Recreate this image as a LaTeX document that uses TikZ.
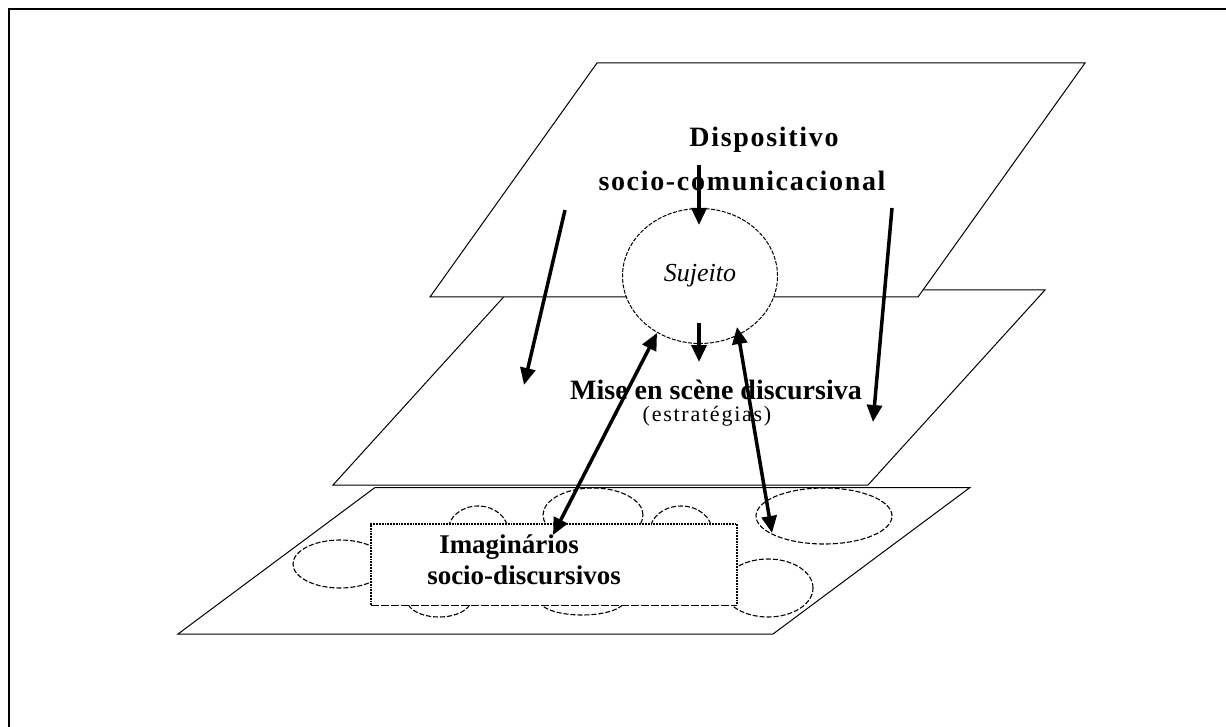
\documentclass[tikz,border=0pt]{standalone}
\usepackage{fontspec}
\setmainfont{Liberation Serif}
\newfontfamily\topfont[LetterSpace=6]{Liberation Serif}
\newfontfamily\estfont[LetterSpace=8]{Liberation Serif}
\usetikzlibrary{shapes.geometric,arrows.meta}
\begin{document}
\begin{tikzpicture}[x=1pt,y=-1pt,
  plane/.style={draw, line width=1pt, fill=white, line join=miter},
  blob/.style={draw, dash pattern=on 5pt off 2pt, line width=1.1pt},
  arr/.style={line width=3.5pt, -{Triangle[length=17pt,width=15pt]}},
  darr/.style={line width=3.5pt, {Triangle[length=17pt,width=15pt]}-{Triangle[length=17pt,width=15pt]}},
  lbl/.style={inner sep=0pt, text=black}
]
\useasboundingbox (0,0) rectangle (1226,727);
% frame
\draw[line width=2.5pt, line join=miter] (9,727) -- (9,9) -- (1226,9);

% bottom plane
\draw[plane] (375,487.5) -- (970,487.5) -- (773,634) -- (178,634) -- cycle;
% imaginary blobs
\draw[blob] (340,564) ellipse [x radius=47pt, y radius=24pt];
\draw[blob] (478,531) ellipse [x radius=30pt, y radius=25pt];
\draw[blob] (593,515) ellipse [x radius=50pt, y radius=27pt];
\draw[blob] (681,531) ellipse [x radius=31pt, y radius=25pt];
\draw[blob] (824,516) ellipse [x radius=68pt, y radius=28pt];
\draw[blob] (768,588) ellipse [x radius=45pt, y radius=29pt];
\draw[blob] (439,600) ellipse [x radius=32pt, y radius=17pt];
\draw[blob] (582,600) ellipse [x radius=43pt, y radius=15pt];
% box
\node[fill=white, minimum width=366pt, minimum height=81pt, inner sep=0pt] (box) at (554,564.5) {};
\draw[densely dotted, line width=1.8pt] (box.south west) -- (box.north west) -- (box.north east) -- (box.south east);
\draw[dash pattern=on 8pt off 2pt, line width=1.3pt] (box.south west) -- (box.south east);
\node[lbl, font=\bfseries\fontsize{27}{32}\selectfont] (imag) at (509,547) {Imaginários};
\node[lbl, font=\bfseries\fontsize{27}{32}\selectfont] (sociod) at (524,575) {socio-discursivos};

% middle plane
\draw[plane] (510,290) -- (1045,290) -- (868,485) -- (333,485) -- cycle;
% top plane
\draw[plane] (597,63) -- (1085,63) -- (918,297) -- (430,297) -- cycle;

% subject
\node[ellipse, draw, fill=white, dash pattern=on 4pt off 1.5pt, line width=1pt,
      minimum width=155pt, minimum height=135pt, inner sep=0pt,
      font=\itshape\fontsize{26}{30}\selectfont] (suj) at (700,276) {Sujeito};

% labels
\node[lbl, font=\topfont\bfseries\fontsize{28}{34}\selectfont] (disp) at (764,140) {Dispositivo};
\node[lbl, font=\topfont\bfseries\fontsize{28}{34}\selectfont] (sociocom) at (742,181) {socio-comunicacional};
\node[lbl, font=\bfseries\fontsize{28}{34}\selectfont] (mise) at (716,390) {Mise en scène discursiva};
\node[lbl, font=\estfont\fontsize{22}{26}\selectfont] (estr) at (707,416) {(estratégias)};

% arrow end points
\coordinate (a1s) at (699,165); \coordinate (a1e) at (699,225);
\coordinate (a2s) at (565,210); \coordinate (a2e) at (524,385);
\coordinate (a3s) at (892,208); \coordinate (a3e) at (873,422);
\coordinate (a4s) at (699,323); \coordinate (a4e) at (699,362);
\coordinate (a5s) at (553,535); \coordinate (a5e) at (657,333);
\coordinate (a6s) at (772,533); \coordinate (a6e) at (737,327);

\draw[arr] (a1s) -- (a1e);
\draw[arr] (a2s) -- (a2e);
\draw[arr] (a3s) -- (a3e);
\draw[arr] (a4s) -- (a4e);
\draw[darr] (a5s) -- (a5e);
\draw[darr] (a6s) -- (a6e);
\end{tikzpicture}
\end{document}
